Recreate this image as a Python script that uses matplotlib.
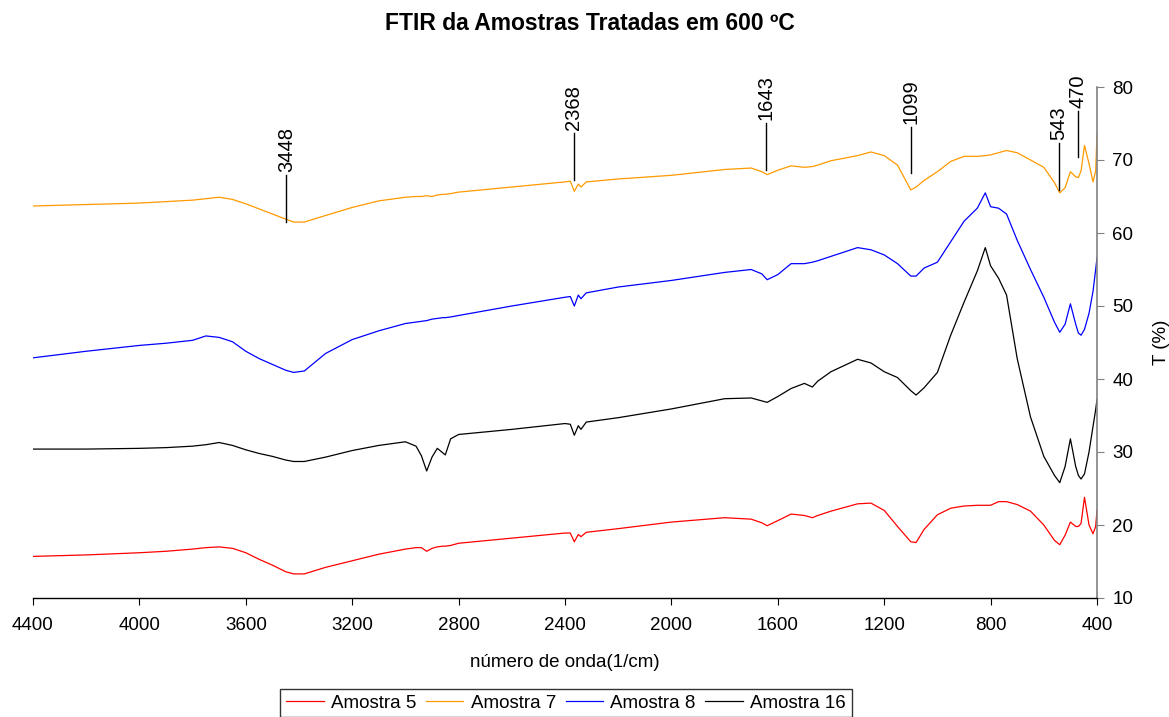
import matplotlib
matplotlib.use("Agg")
import matplotlib.pyplot as plt

plt.rcParams["font.family"] = ["Liberation Sans", "DejaVu Sans"]

# numero de onda (1/cm)
onda = [4400, 4200, 4000, 3900, 3800, 3750, 3700, 3650, 3600, 3550, 3500, 3450,
        3420, 3380, 3300, 3200, 3100, 3000, 2960, 2940, 2920, 2900, 2880, 2860,
        2850, 2830, 2800, 2600, 2400, 2380, 2365, 2350, 2340, 2320, 2200, 2000,
        1800, 1700, 1660, 1640, 1600, 1550, 1500, 1470, 1450, 1400, 1300, 1250,
        1200, 1150, 1100, 1080, 1050, 1000, 950, 900, 850, 820, 800, 770, 740,
        700, 650, 600, 560, 540, 520, 500, 480, 470, 460, 447, 430, 415, 405, 400]

amostra5 = [15.7, 15.9, 16.2, 16.4, 16.7, 16.9, 17.0, 16.8, 16.2, 15.3, 14.5, 13.6,
            13.3, 13.3, 14.2, 15.1, 16.0, 16.7, 16.9, 16.9, 16.4, 16.8, 17.0, 17.1,
            17.1, 17.2, 17.5, 18.2, 18.9, 18.9, 17.7, 18.7, 18.4, 19.0, 19.5, 20.4,
            21.0, 20.8, 20.3, 19.9, 20.6, 21.5, 21.3, 21.0, 21.3, 21.9, 22.9, 23.0,
            22.0, 19.8, 17.7, 17.6, 19.4, 21.4, 22.3, 22.6, 22.7, 22.7, 22.7, 23.2,
            23.2, 22.8, 21.9, 20.0, 17.9, 17.3, 18.6, 20.4, 19.8, 19.8, 20.2, 23.8,
            20.0, 18.8, 19.8, 22.0]

amostra7 = [63.7, 63.9, 64.1, 64.3, 64.5, 64.7, 64.9, 64.6, 64.0, 63.3, 62.6, 61.9,
            61.5, 61.5, 62.4, 63.5, 64.4, 64.9, 65.0, 65.0, 65.1, 65.0, 65.2, 65.3,
            65.3, 65.4, 65.6, 66.3, 67.0, 67.1, 65.7, 66.7, 66.3, 67.0, 67.4, 67.9,
            68.7, 68.9, 68.4, 68.0, 68.6, 69.2, 69.0, 69.1, 69.3, 69.9, 70.6, 71.1,
            70.6, 69.3, 65.9, 66.3, 67.2, 68.4, 69.8, 70.5, 70.5, 70.6, 70.7, 71.0,
            71.3, 71.0, 70.0, 69.0, 66.9, 65.5, 66.2, 68.4, 67.7, 67.6, 68.5, 72.0,
            69.5, 67.0, 68.5, 73.5]

amostra8 = [42.9, 43.8, 44.6, 44.9, 45.3, 45.9, 45.7, 45.1, 43.8, 42.8, 42.0, 41.2,
            40.9, 41.1, 43.5, 45.4, 46.6, 47.6, 47.8, 47.9, 48.0, 48.2, 48.3, 48.4,
            48.4, 48.5, 48.7, 50.0, 51.2, 51.3, 50.0, 51.5, 51.0, 51.8, 52.6, 53.5,
            54.6, 55.0, 54.4, 53.6, 54.3, 55.8, 55.8, 56.0, 56.2, 56.8, 58.0, 57.7,
            57.0, 55.8, 54.1, 54.1, 55.2, 56.0, 58.8, 61.6, 63.4, 65.5, 63.6, 63.4,
            62.6, 59.0, 55.0, 51.2, 47.8, 46.4, 47.5, 50.3, 47.5, 46.3, 46.0, 46.8,
            49.0, 52.0, 55.0, 56.6]

amostra16 = [30.4, 30.4, 30.5, 30.6, 30.8, 31.0, 31.3, 30.9, 30.3, 29.8, 29.4, 28.9,
             28.7, 28.7, 29.3, 30.2, 30.9, 31.4, 30.8, 29.5, 27.4, 29.3, 30.5, 29.9,
             29.6, 31.8, 32.4, 33.1, 33.9, 33.8, 32.3, 33.6, 33.1, 34.1, 34.7, 35.9,
             37.3, 37.4, 37.0, 36.8, 37.6, 38.7, 39.4, 38.9, 39.7, 41.0, 42.7, 42.2,
             41.0, 40.2, 38.4, 37.8, 38.8, 40.9, 46.0, 50.5, 54.8, 58.0, 55.5, 53.8,
             51.5, 42.8, 34.8, 29.4, 26.8, 25.8, 28.0, 31.8, 28.0, 26.8, 26.3, 27.0,
             30.0, 33.5, 35.8, 37.2]

# bandas marcadas sobre a Amostra 7
bandas = [3448, 2368, 1643, 1099, 543, 470]
banda_base = [61.5, 67.3, 68.6, 68.2, 65.9, 70.4]
banda_topo = [67.9, 73.7, 75.1, 74.5, 72.3, 76.7]

series = [
    ("Amostra 5", amostra5, "#ff0000"),
    ("Amostra 7", amostra7, "#ff9900"),
    ("Amostra 8", amostra8, "#0000ff"),
    ("Amostra 16", amostra16, "#000000"),
]

FONTE = 13.5

fig = plt.figure(figsize=(11.69, 7.17), dpi=100)
ax = fig.add_axes([33 / 1169, 1 - 598 / 717, 1064 / 1169, 511 / 717])

for nome, valores, cor in series:
    ax.plot(onda, valores, color=cor, lw=0.9, label=nome)

for b, y0, y1 in zip(bandas, banda_base, banda_topo):
    ax.plot([b, b], [y0, y1], color="black", lw=1.0)
    ax.text(b, y1 + 0.4, str(b), rotation=90, ha="center", va="bottom",
            fontsize=14.5, clip_on=False)

ax.set_xlim(4400, 400)
ax.set_ylim(10, 80)
ax.set_xticks(range(4400, 399, -400))
ax.set_yticks(range(10, 81, 10))

ax.spines["top"].set_visible(False)
ax.spines["left"].set_visible(False)
ax.spines["right"].set_color("#808080")
ax.spines["right"].set_linewidth(1.2)
ax.spines["bottom"].set_linewidth(1.0)
ax.yaxis.tick_right()
ax.yaxis.set_label_position("right")
ax.tick_params(axis="y", direction="out", length=5, color="#808080",
               labelcolor="black", labelsize=FONTE, pad=6)
ax.tick_params(axis="x", direction="out", length=5, labelsize=FONTE, pad=9)

ax.set_xlabel("número de onda(1/cm)", fontsize=FONTE, labelpad=14)
ax.set_ylabel("T (%)", fontsize=FONTE, rotation=90)
ax.yaxis.set_label_coords((1153 - 33) / 1064, 0.5)

fig.suptitle("FTIR da Amostras Tratadas em 600 ºC", fontsize=16.5,
             fontweight="bold", x=590 / 1169, y=1 - 12 / 717, va="top")

leg = fig.legend(loc="upper center", bbox_to_anchor=(566 / 1169, 1 - 689 / 717),
                 ncol=4, fontsize=FONTE, frameon=True, fancybox=False,
                 borderpad=0.3, handlelength=2.0, handletextpad=0.4,
                 columnspacing=0.5, borderaxespad=0)
leg.get_frame().set_edgecolor("black")
leg.get_frame().set_linewidth(1.0)

fig.savefig("out.png", dpi=100)
